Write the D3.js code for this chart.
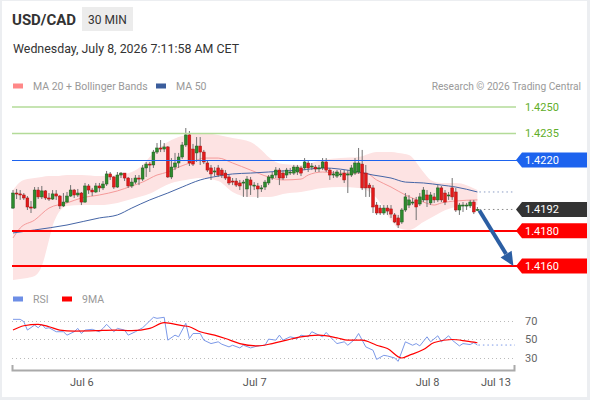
<!DOCTYPE html>
<html>
<head>
<meta charset="utf-8">
<script src="https://cdn.jsdelivr.net/npm/d3@7"></script>
<style>
	html,
	body {
		margin: 0;
		padding: 0;
		background: #fff;
	}
	svg {
		display: block;
		font-family: Roboto, 'Liberation Sans', Arial, sans-serif;
	}
</style>
</head>
<body>
<svg id="chart" width="590" height="400"></svg>
<script>
// 30 min candles, [open, high, low, close], first one is Jul 5 14:30 CET
const candles = [
	[1.41928, 1.4203, 1.41923, 1.42013], [1.42013, 1.42036, 1.41979, 1.42008], [1.42008, 1.4203, 1.41974, 1.42002],
	[1.42002, 1.42013, 1.41974, 1.41985], [1.41985, 1.41996, 1.41917, 1.41934], [1.41934, 1.41968, 1.419, 1.41928],
	[1.41928, 1.42047, 1.41923, 1.4203], [1.4203, 1.42047, 1.41979, 1.41991], [1.41991, 1.42053, 1.41979, 1.42025],
	[1.42025, 1.4203, 1.41974, 1.41985], [1.41985, 1.42013, 1.41968, 1.41979], [1.41979, 1.4203, 1.41974, 1.42008],
	[1.42008, 1.4203, 1.41974, 1.41996], [1.41996, 1.42002, 1.41923, 1.4194], [1.4194, 1.42013, 1.41934, 1.41962],
	[1.41962, 1.42019, 1.41957, 1.41996], [1.41996, 1.42058, 1.41991, 1.4203], [1.4203, 1.42036, 1.41985, 1.42002],
	[1.42002, 1.42036, 1.41991, 1.42013], [1.42013, 1.42019, 1.41945, 1.41962], [1.41962, 1.4207, 1.41957, 1.42053],
	[1.42053, 1.42064, 1.42008, 1.4203], [1.4203, 1.42042, 1.41996, 1.42019], [1.42019, 1.4207, 1.42013, 1.42053],
	[1.42053, 1.4207, 1.42019, 1.42042], [1.42042, 1.42081, 1.4203, 1.42064], [1.42064, 1.42138, 1.42053, 1.42121],
	[1.42121, 1.42132, 1.42087, 1.42104], [1.42104, 1.42109, 1.42036, 1.42047], [1.42047, 1.42132, 1.42042, 1.42115],
	[1.42115, 1.42132, 1.42098, 1.42126], [1.42126, 1.42126, 1.42081, 1.42098], [1.42098, 1.42104, 1.42042, 1.42053],
	[1.42053, 1.42098, 1.42042, 1.42075], [1.42075, 1.42115, 1.42064, 1.42098], [1.42098, 1.42115, 1.42058, 1.42092],
	[1.42092, 1.42172, 1.42081, 1.42155], [1.42155, 1.42189, 1.42104, 1.42177], [1.42177, 1.42189, 1.42132, 1.42172],
	[1.42172, 1.42257, 1.42155, 1.42245], [1.42245, 1.42296, 1.42234, 1.42268], [1.42268, 1.42313, 1.42245, 1.42262],
	[1.42262, 1.42296, 1.42245, 1.42274], [1.42274, 1.42279, 1.42098, 1.42104], [1.42104, 1.42211, 1.42092, 1.4216],
	[1.4216, 1.4224, 1.42143, 1.42183], [1.42183, 1.4224, 1.42155, 1.42217], [1.42217, 1.42302, 1.42206, 1.42285],
	[1.42285, 1.42381, 1.42274, 1.42342], [1.42342, 1.42364, 1.42166, 1.42183], [1.42262, 1.42291, 1.42166, 1.42177],
	[1.4224, 1.4233, 1.42189, 1.42279], [1.42279, 1.4233, 1.42172, 1.42245], [1.42245, 1.42257, 1.42177, 1.42189],
	[1.42183, 1.422, 1.42132, 1.42143], [1.42155, 1.42172, 1.42087, 1.42121], [1.42132, 1.4216, 1.42109, 1.42138],
	[1.42155, 1.42172, 1.42104, 1.42115], [1.42143, 1.42155, 1.42098, 1.42115], [1.42126, 1.42143, 1.42087, 1.42098],
	[1.42104, 1.42115, 1.42058, 1.4207], [1.42081, 1.42098, 1.42058, 1.42075], [1.42081, 1.42098, 1.42047, 1.42058],
	[1.4207, 1.42087, 1.4203, 1.42053], [1.4207, 1.42087, 1.41991, 1.42075], [1.42036, 1.42109, 1.41991, 1.42092],
	[1.42087, 1.42104, 1.42002, 1.42058], [1.42058, 1.42075, 1.4203, 1.42058], [1.42053, 1.4207, 1.41985, 1.42036],
	[1.42042, 1.42058, 1.42019, 1.42042], [1.42047, 1.42087, 1.4203, 1.42075], [1.4207, 1.42115, 1.42058, 1.42104],
	[1.42098, 1.42132, 1.42087, 1.42115], [1.42115, 1.4216, 1.42098, 1.42143], [1.42143, 1.42155, 1.42058, 1.42098],
	[1.42126, 1.42143, 1.42087, 1.42098], [1.42115, 1.42155, 1.42098, 1.42143], [1.42132, 1.42155, 1.42115, 1.42132],
	[1.42126, 1.42172, 1.42115, 1.4216], [1.42132, 1.42172, 1.42115, 1.4216], [1.42155, 1.42166, 1.42109, 1.42126],
	[1.42155, 1.42211, 1.42143, 1.42189], [1.42183, 1.422, 1.42132, 1.42155], [1.4216, 1.42183, 1.42143, 1.42166],
	[1.4216, 1.42172, 1.42132, 1.42149], [1.42155, 1.42172, 1.42132, 1.42155], [1.42155, 1.42211, 1.42143, 1.42189],
	[1.42189, 1.42211, 1.42132, 1.42143], [1.42143, 1.42155, 1.42087, 1.42115], [1.42115, 1.42138, 1.42098, 1.42121],
	[1.42109, 1.42143, 1.42098, 1.42132], [1.42121, 1.42143, 1.42104, 1.42121], [1.42126, 1.42143, 1.4207, 1.42087],
	[1.42115, 1.42143, 1.42013, 1.42121], [1.42115, 1.42172, 1.42104, 1.42155], [1.42126, 1.42211, 1.42115, 1.42183],
	[1.42132, 1.42268, 1.42121, 1.42183], [1.42177, 1.42257, 1.4203, 1.42042], [1.42126, 1.42172, 1.41991, 1.42042],
	[1.42058, 1.4207, 1.41991, 1.42042], [1.42042, 1.42058, 1.419, 1.41934], [1.41945, 1.41962, 1.41889, 1.419],
	[1.41928, 1.41945, 1.41889, 1.419], [1.419, 1.41945, 1.41889, 1.41928], [1.41928, 1.41945, 1.41889, 1.41911],
	[1.41923, 1.41945, 1.41872, 1.41894], [1.41889, 1.419, 1.41843, 1.41849], [1.41872, 1.41889, 1.41815, 1.41832],
	[1.41849, 1.41928, 1.41838, 1.41917], [1.41917, 1.42013, 1.41906, 1.41991], [1.41945, 1.42002, 1.41928, 1.41974],
	[1.41962, 1.41985, 1.41945, 1.41962], [1.41974, 1.41991, 1.4186, 1.41934], [1.41951, 1.42013, 1.4194, 1.41991],
	[1.41974, 1.42047, 1.41962, 1.4203], [1.42002, 1.4203, 1.41934, 1.41974], [1.41957, 1.42019, 1.41945, 1.42002],
	[1.41991, 1.42013, 1.41957, 1.41974], [1.41974, 1.42058, 1.41962, 1.42042], [1.42042, 1.42053, 1.41962, 1.41974],
	[1.42013, 1.4203, 1.41945, 1.41962], [1.42002, 1.42019, 1.41974, 1.42002], [1.42042, 1.42098, 1.41974, 1.41991],
	[1.42019, 1.42042, 1.41906, 1.41917], [1.41917, 1.41957, 1.41889, 1.41945], [1.41945, 1.41962, 1.41906, 1.41945],
	[1.41945, 1.41957, 1.41917, 1.41945], [1.4194, 1.41974, 1.41928, 1.41962], [1.41962, 1.41974, 1.41894, 1.41906],
	[1.41917, 1.41934, 1.41911, 1.4192],
]

// Bollinger bands (MA 20), read at these candle indices
const bandIdx = [0, 2, 4, 6, 8, 10, 11, 12, 15, 19, 24, 29, 33, 36, 39, 41, 44, 48, 52, 57, 61, 66, 69, 71, 73, 75, 80, 86, 91, 96, 101, 105, 107, 110, 114, 116, 119, 123, 129]
const bandUpper = [1.4203, 1.42075, 1.42092, 1.42098, 1.42104, 1.42109, 1.42109, 1.42109, 1.42115, 1.42115, 1.42109, 1.42115, 1.42132, 1.42172, 1.4224, 1.42274, 1.42313, 1.42342, 1.42353, 1.42342, 1.42325, 1.42302, 1.42257, 1.42217, 1.42189, 1.42177, 1.42172, 1.422, 1.42211, 1.42217, 1.42245, 1.42245, 1.4224, 1.42228, 1.42132, 1.42087, 1.4207, 1.4207, 1.4203]
const bandLower = [1.41521, 1.41526, 1.41532, 1.41543, 1.416, 1.41747, 1.41826, 1.41877, 1.4194, 1.41945, 1.41945, 1.41957, 1.41979, 1.41996, 1.42019, 1.42042, 1.4207, 1.42087, 1.42098, 1.42081, 1.42019, 1.41991, 1.41991, 1.41991, 1.41996, 1.42008, 1.42019, 1.42042, 1.42047, 1.42042, 1.41985, 1.4186, 1.41815, 1.41804, 1.41849, 1.41872, 1.41906, 1.41934, 1.41945]

// [candle index, value]
const ma20 = [[0, 1.41759], [2, 1.41815], [6, 1.4186], [10, 1.41928], [15, 1.41957], [19, 1.41985], [24, 1.42002], [29, 1.42025], [33, 1.42053], [36, 1.42075], [40, 1.42115], [43, 1.42132], [46, 1.4216], [50, 1.42189], [53, 1.42211], [57, 1.42211], [61, 1.42183], [66, 1.42143], [71, 1.42104], [75, 1.42087], [80, 1.42092], [82, 1.42115], [86, 1.42132], [91, 1.42126], [96, 1.42126], [98, 1.42126], [101, 1.42087], [105, 1.42047], [109, 1.42002], [114, 1.41962], [117, 1.41945], [119, 1.41957], [123, 1.41968], [129, 1.41974]]
const ma50 = [[0, 1.41787], [6, 1.41804], [15, 1.41832], [24, 1.41872], [29, 1.41889], [33, 1.41928], [38, 1.41974], [43, 1.42013], [47, 1.42047], [52, 1.42087], [57, 1.42109], [61, 1.42121], [66, 1.42126], [71, 1.42132], [75, 1.42138], [80, 1.42143], [86, 1.42155], [96, 1.42132], [100, 1.42115], [105, 1.42098], [109, 1.42075], [114, 1.4207], [119, 1.42058], [123, 1.42047], [129, 1.42019]]

const rsi = [[0, 71.8], [2, 71.8], [3, 69.3], [4, 60.2], [6, 65.6], [7, 62.7], [8, 66.4], [9, 62], [10, 62.7], [12, 58.4], [14, 58.4], [15, 54.7], [17, 58.4], [18, 62], [19, 56.5], [20, 60.2], [22, 61], [24, 58.4], [25, 62], [26, 66.4], [28, 58.4], [29, 62], [31, 60.2], [32, 54.7], [34, 58.4], [36, 62.7], [37, 66.4], [39, 74], [40, 72.9], [42, 74], [43, 49.3], [45, 54.7], [46, 52.9], [48, 67.5], [49, 51], [50, 56.5], [52, 56.5], [53, 49.3], [55, 45.6], [57, 47.5], [58, 44.9], [60, 42], [61, 43.8], [63, 40.9], [64, 43.8], [66, 40.9], [68, 43.1], [70, 43.8], [71, 50.4], [73, 49.3], [74, 54.7], [75, 49.3], [77, 52.9], [79, 51], [80, 54.7], [82, 52.9], [83, 58.4], [85, 54.7], [86, 52.9], [87, 57.6], [89, 49.3], [90, 45.6], [92, 47.5], [93, 43.8], [95, 50.4], [96, 56.5], [98, 42], [100, 38.4], [101, 28.5], [103, 32.9], [104, 32.2], [106, 30], [107, 26.4], [109, 47.5], [111, 43.8], [112, 45.6], [113, 43.1], [115, 52.9], [116, 47.5], [118, 54], [119, 47.5], [121, 54], [122, 49.3], [124, 43.1], [125, 45.6], [127, 44.5], [128, 46.7], [129, 44]]
const rsiMa9 = [[0, 60.2], [3, 64.9], [7, 66.4], [10, 63.8], [13, 60.2], [17, 59.1], [23, 59.5], [28, 60.2], [33, 59.5], [38, 62], [42, 68.2], [47, 64.9], [49, 63.8], [52, 58.4], [56, 54.7], [59, 51.1], [63, 45.6], [68, 43.1], [72, 45.6], [76, 49.3], [80, 52.9], [85, 54.7], [90, 51.8], [93, 49.3], [97, 49.3], [101, 43.8], [104, 40.2], [108, 30], [110, 32.9], [114, 39.1], [117, 46.7], [122, 50], [126, 48.2], [129, 46.5]]
const rsiTicks = [70, 50, 30]

const resistances = [1.425, 1.4235]
const pivot = 1.422
const supports = [1.418, 1.416]
const target = 1.416
const targetIdx = 139

const xTickIdx = [19, 67, 115, 134]
const xTickLabels = ['Jul 6', 'Jul 7', 'Jul 8', 'Jul 13']

const W = 590
const H = 400
const plotLeft = 12
const plotRight = 515
const green = '#2e8b2e'
const red = '#e31b1b'

const svg = d3.select('#chart')
svg.append('rect').attr('width', W).attr('height', H).attr('fill', '#eceef1')
svg.append('rect').attr('x', 2).attr('y', 1).attr('width', 585).attr('height', 396).attr('fill', '#fff')

const x = d3.scaleLinear().domain([0, candles.length - 1]).range([13, 477.4])
const y = d3.scaleLinear().domain([1.416, 1.425]).range([266, 107])
const yr = d3.scaleLinear().domain([30, 70]).range([358, 321])

// header
svg.append('text').attr('x', 12).attr('y', 25).attr('font-size', 15).attr('font-weight', 'bold').attr('fill', '#333').text('USD/CAD')
svg.append('rect').attr('x', 82).attr('y', 7).attr('width', 51).attr('height', 24).attr('fill', '#ececec')
svg.append('text').attr('x', 107.5).attr('y', 23.5).attr('text-anchor', 'middle').attr('font-size', 12).attr('fill', '#333').text('30 MIN')
svg.append('text').attr('x', 13).attr('y', 53).attr('font-size', 12.4).attr('fill', '#333').text('Wednesday, July 8, 2026 7:11:58 AM CET')

// legends
function legend(g, items) {
	items.forEach(it => {
		g.append('rect').attr('x', it.x).attr('y', it.y - 2.5).attr('width', 10).attr('height', 5).attr('fill', it.color)
		g.append('text').attr('x', it.x + 20).attr('y', it.y + 4).attr('font-size', 10.5).attr('fill', '#999').text(it.label)
	})
}
legend(svg, [
	{x: 13, y: 86, color: '#f88', label: 'MA 20 + Bollinger Bands'},
	{x: 156, y: 86, color: '#3b5d9c', label: 'MA 50'},
])
svg.append('text').attr('x', 581).attr('y', 90).attr('text-anchor', 'end').attr('font-size', 10.2).attr('fill', '#999').text('Research © 2026 Trading Central')
legend(svg, [
	{x: 13, y: 299, color: '#6d8ee6', label: 'RSI'},
	{x: 62, y: 299, color: '#f00', label: '9MA'},
])

// bollinger band + moving averages
const band = bandIdx.map((i, k) => ({i, hi: bandUpper[k], lo: bandLower[k]}))
svg.append('path').datum(band).attr('fill', '#fde3e3')
	.attr('d', d3.area().x(d => x(d.i)).y0(d => y(d.lo)).y1(d => y(d.hi)).curve(d3.curveMonotoneX))

const line = d3.line().x(d => x(d[0])).y(d => y(d[1])).curve(d3.curveMonotoneX)
svg.append('path').datum(ma20).attr('fill', 'none').attr('stroke', '#f59a9a').attr('stroke-width', 1).attr('d', line)
svg.append('path').datum(ma50).attr('fill', 'none').attr('stroke', '#4565a6').attr('stroke-width', 1).attr('d', line)

const last = candles.length - 1
const lastClose = candles[last][3]
svg.append('line').attr('x1', x(last) + 2).attr('x2', plotRight).attr('y1', y(ma50[ma50.length - 1][1])).attr('y2', y(ma50[ma50.length - 1][1]))
	.attr('stroke', '#8a9cc4').attr('stroke-dasharray', '1.5,3')
svg.append('line').attr('x1', x(last) + 2).attr('x2', plotRight).attr('y1', y(lastClose)).attr('y2', y(lastClose))
	.attr('stroke', '#888').attr('stroke-dasharray', '1.5,3')

// candles
const cg = svg.append('g')
cg.selectAll('line').data(candles).join('line')
	.attr('x1', (d, i) => x(i)).attr('x2', (d, i) => x(i))
	.attr('y1', d => y(d[1])).attr('y2', d => y(d[2]))
	.attr('stroke', '#727272').attr('stroke-width', 1)
cg.selectAll('rect').data(candles).join('rect')
	.attr('x', (d, i) => x(i) - 1.4).attr('width', 2.8)
	.attr('y', d => y(Math.max(d[0], d[3])))
	.attr('height', d => Math.max(1, Math.abs(y(d[0]) - y(d[3]))))
	.attr('fill', d => (d[3] >= d[0] ? green : red))
	.attr('stroke', d => (d[3] >= d[0] ? '#1c5c1c' : '#a51212')).attr('stroke-width', 0.5)

// key levels
const lv = svg.append('g')
resistances.forEach(v => {
	lv.append('line').attr('x1', plotLeft).attr('x2', 516).attr('y1', y(v)).attr('y2', y(v)).attr('stroke', '#b3db98').attr('stroke-width', 1.5)
	svg.append('text').attr('x', 525).attr('y', y(v)).attr('dy', '0.36em').attr('font-size', 11).attr('fill', '#5fae2a').text(v.toFixed(4))
})
lv.append('line').attr('x1', plotLeft).attr('x2', 517).attr('y1', y(pivot)).attr('y2', y(pivot)).attr('stroke', '#1d63ee').attr('stroke-width', 1).attr('shape-rendering', 'crispEdges')
supports.forEach(v => {
	lv.append('line').attr('x1', plotLeft).attr('x2', 517).attr('y1', y(v)).attr('y2', y(v)).attr('stroke', '#f00').attr('stroke-width', 2).attr('shape-rendering', 'crispEdges')
})

function tag(v, fill) {
	const c = y(v)
	svg.append('path').attr('fill', fill)
		.attr('d', `M516,${c}L522,${c - 7.5}H587V${c + 7.5}H522Z`)
	svg.append('text').attr('x', 525).attr('y', c).attr('dy', '0.36em').attr('font-size', 11).attr('fill', '#fff').text(v.toFixed(4))
}
tag(pivot, '#1d63ee')
tag(lastClose, '#333')
supports.forEach(v => tag(v, '#f00'))

// expected move arrow
const ax0 = x(last) + 2
const ay0 = y(lastClose) + 1
const ax1 = x(targetIdx)
const ay1 = y(target)
const ang = Math.atan2(ay1 - ay0, ax1 - ax0)
const headLen = 14
const bx = ax1 - headLen * Math.cos(ang)
const by = ay1 - headLen * Math.sin(ang)
svg.append('line').attr('x1', ax0).attr('y1', ay0).attr('x2', bx).attr('y2', by)
	.attr('stroke', '#2b5ea3').attr('stroke-width', 4)
const px = -Math.sin(ang) * 6.5
const py = Math.cos(ang) * 6.5
svg.append('path').attr('fill', '#2b5ea3')
	.attr('d', `M${ax1},${ay1}L${bx + px},${by + py}L${bx - px},${by - py}Z`)

// RSI panel
rsiTicks.forEach(v => {
	svg.append('line').attr('x1', plotLeft).attr('x2', plotRight).attr('y1', yr(v)).attr('y2', yr(v))
		.attr('stroke', '#bbb').attr('stroke-dasharray', '1,3').attr('shape-rendering', 'crispEdges')
	svg.append('text').attr('x', 525).attr('y', yr(v)).attr('dy', '0.36em').attr('font-size', 11).attr('fill', '#666').text(v)
})
const rline = d3.line().x(d => x(d[0])).y(d => yr(d[1]))
svg.append('path').datum(rsi).attr('fill', 'none').attr('stroke', '#7c99e8').attr('stroke-width', 1).attr('d', rline)
svg.append('path').datum(rsiMa9).attr('fill', 'none').attr('stroke', '#f00').attr('stroke-width', 1.2).attr('d', rline.curve(d3.curveMonotoneX))
const rLast = rsi[rsi.length - 1][1]
svg.append('line').attr('x1', x(last) + 1).attr('x2', plotRight).attr('y1', yr(rLast)).attr('y2', yr(rLast))
	.attr('stroke', '#7c99e8').attr('stroke-dasharray', '1.5,3')

// time axis
const xa = d3.scaleLinear().domain([x.invert(12), x.invert(514)]).range([12, 514])
const axis = d3.axisBottom(xa)
	.tickValues(xTickIdx)
	.tickFormat(d => xTickLabels[xTickIdx.indexOf(d)])
	.tickSizeInner(0)
	.tickSizeOuter(-5)
	.tickPadding(8)
const ga = svg.append('g').attr('transform', 'translate(0,370)').call(axis)
ga.attr('font-family', null).attr('font-size', 11)
ga.select('.domain').attr('stroke', '#aaa').attr('stroke-width', 2)
ga.selectAll('text').attr('fill', '#555')
</script>
</body>
</html>
